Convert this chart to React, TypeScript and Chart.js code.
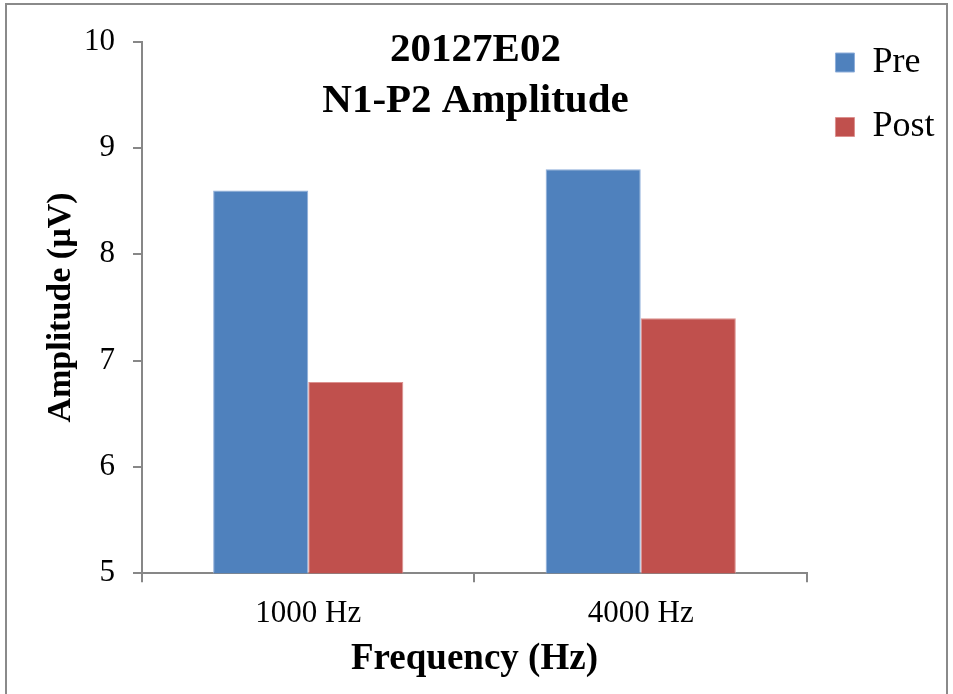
import React, { useEffect, useRef } from "react";
import { Chart, registerables } from "chart.js";

Chart.register(...registerables);

const categories = ["1000 Hz", "4000 Hz"];
const preValues = [8.6, 8.8];
const postValues = [6.8, 7.4];
const seriesNames = ["Pre", "Post"];
const titleLines = ["20127E02", "N1-P2 Amplitude"];
const xAxisTitle = "Frequency (Hz)";
const yAxisTitle = "Amplitude (µV)";
const yMin = 5;
const yMax = 10;
const yStep = 1;

const SERIF = "'Liberation Serif', 'Times New Roman', Times, serif";
const AXIS_GRAY = "#878787";

const titlePlugin = {
  id: "inAreaTitle",
  afterDraw(chart: any) {
    const { ctx, chartArea } = chart;
    const cx = (chartArea.left + chartArea.right) / 2 + 1;
    ctx.save();
    ctx.fillStyle = "#000";
    ctx.font = `bold 41px ${SERIF}`;
    ctx.textAlign = "center";
    ctx.textBaseline = "alphabetic";
    ctx.fillText(titleLines[0], cx, chartArea.top + 19);
    ctx.fillText(titleLines[1], cx, chartArea.top + 70.5);
    ctx.restore();
  },
};

export default function App() {
  const canvasRef = useRef<HTMLCanvasElement | null>(null);

  useEffect(() => {
    if (!canvasRef.current) return;
    const chart = new Chart(canvasRef.current, {
      type: "bar",
      data: {
        labels: categories,
        datasets: [
          {
            label: seriesNames[0],
            data: preValues,
            backgroundColor: "#4F81BD",
            borderColor: "#8FAEDA",
            borderWidth: 1,
            categoryPercentage: 0.572,
            barPercentage: 1,
          },
          {
            label: seriesNames[1],
            data: postValues,
            backgroundColor: "#C0504D",
            borderColor: "#DC918F",
            borderWidth: 1,
            categoryPercentage: 0.572,
            barPercentage: 1,
          },
        ],
      },
      options: {
        animation: false,
        responsive: false,
        maintainAspectRatio: false,
        layout: { padding: { top: 16, right: 8.5, bottom: 0, left: 0 } },
        plugins: {
          legend: {
            position: "right",
            align: "start",
            labels: {
              color: "#000",
              boxWidth: 19,
              boxHeight: 19,
              padding: 28.5,
              font: { family: SERIF, size: 36 },
            },
          },
          tooltip: { enabled: false },
          title: { display: false },
        },
        scales: {
          x: {
            type: "category",
            offset: true,
            grid: {
              display: true,
              offset: true,
              drawOnChartArea: false,
              drawTicks: true,
              tickLength: 9,
              color: AXIS_GRAY,
              lineWidth: 2,
            },
            border: { display: true, color: AXIS_GRAY, width: 2 },
            ticks: {
              color: "#000",
              padding: 12.5,
              font: { family: SERIF, size: 31 },
            },
            title: {
              display: true,
              text: xAxisTitle,
              color: "#000",
              font: { family: SERIF, size: 37, weight: "bold", lineHeight: 1.2 },
              padding: { top: 0, bottom: 12 },
            },
            afterFit(scale: any) {
              scale.height = 120.7;
            },
          },
          y: {
            type: "linear",
            min: yMin,
            max: yMax,
            ticks: {
              stepSize: yStep,
              color: "#000",
              padding: 18,
              font: { family: SERIF, size: 31 },
            },
            grid: {
              display: true,
              drawOnChartArea: false,
              drawTicks: true,
              tickLength: 9,
              color: AXIS_GRAY,
              lineWidth: 2,
            },
            border: { display: true, color: AXIS_GRAY, width: 2 },
            title: {
              display: true,
              text: yAxisTitle,
              color: "#000",
              font: { family: SERIF, size: 34, weight: "bold", lineHeight: 1.2 },
              padding: { top: 41, bottom: 0 },
            },
            afterFit(scale: any) {
              scale.width = 142;
              scale.paddingTop = 41.7;
            },
          },
        },
      },
      plugins: [titlePlugin],
    } as any);
    return () => chart.destroy();
  }, []);

  return (
    <div
      style={{
        position: "fixed",
        left: 0,
        top: 0,
        width: 953,
        height: 694,
        background: "#fff",
        overflow: "hidden",
      }}
    >
      <div
        style={{
          position: "absolute",
          left: 5,
          top: 3,
          width: 943,
          height: 760,
          boxSizing: "border-box",
          border: "2px solid #8a8a8a",
        }}
      />
      <canvas
        ref={canvasRef}
        width={953}
        height={694}
        style={{ position: "absolute", left: 0, top: 0, width: 953, height: 694 }}
      />
    </div>
  );
}
